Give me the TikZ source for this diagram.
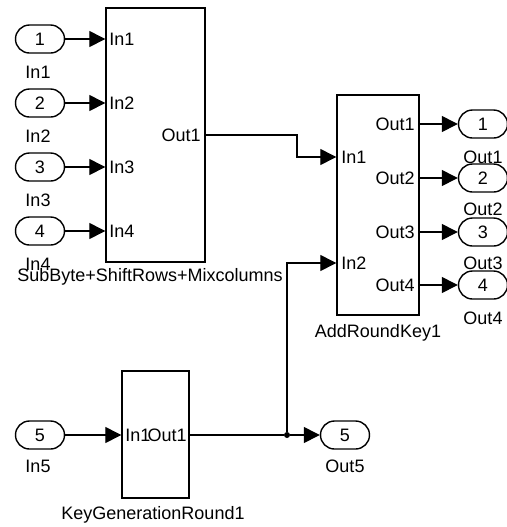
\documentclass[tikz,border=0pt]{standalone}
\usepackage{fontspec}
\setmainfont{Liberation Sans}
\usetikzlibrary{arrows.meta, shapes.misc}

\tikzset{
  blk/.style={draw, line width=0.7pt, inner sep=0pt},
  port/.style={draw, rounded rectangle, line width=0.7pt, minimum width=24.5pt, minimum height=14pt},
  lbl/.style={inner sep=0pt, font=\fontsize{9}{10}\selectfont},
  sig/.style={line width=0.7pt, -{Triangle[length=8pt, width=8pt]}},
  wire/.style={line width=0.7pt}
}

\begin{document}
\begin{tikzpicture}[x=0.5pt, y=-0.5pt]
  \useasboundingbox (0,0) rectangle (507,527);

  % SubByte+ShiftRows+Mixcolumns block
  \node[blk, minimum width=49.5pt, minimum height=127pt] (sbox) at (155.5,135) {};
  \node[lbl] (sbox-name) at (150,277) {SubByte+ShiftRows+Mixcolumns};
  \node[lbl, anchor=east] (sbox-out1) at (201,135) {Out1};

  % Inports 1..4
  \foreach \i/\yy in {1/39, 2/103, 3/167, 4/231} {
    \node[port, lbl] (in\i) at (40,\yy) {\i};
    \node[lbl] (inlbl\i) at (38,\yy+33) {In\i};
    \node[lbl, anchor=west] (sbox-in\i) at (109,\yy) {In\i};
    \draw[sig] (in\i.east) -- (sbox.west |- in\i);
  }

  % AddRoundKey block
  \node[blk, minimum width=41pt, minimum height=110pt] (ark) at (378,205) {};
  \node[lbl] (ark-name) at (378,333) {AddRoundKey1};
  \node[lbl, anchor=west] (ark-in1) at (341,157) {In1};
  \node[lbl, anchor=west] (ark-in2) at (341,263) {In2};

  % Outports 1..4
  \foreach \i/\yy/\ly in {1/124/157, 2/178/209, 3/232/263, 4/285/318} {
    \node[lbl, anchor=east] (ark-out\i) at (415,\yy) {Out\i};
    \node[port, lbl] (out\i) at (483,\yy) {\i};
    \node[lbl] (outlbl\i) at (483,\ly) {Out\i};
    \draw[sig] (ark.east |- ark-out\i) -- (out\i.west);
  }

  % sbox -> ark
  \coordinate (bend) at (297,135);
  \draw[sig] (sbox.east) -- (bend) |- (ark.west |- ark-in1);

  % Key generation
  \node[blk, minimum width=33.5pt, minimum height=63.5pt] (kgr) at (155.5,434.5) {};
  \node[lbl] (kgr-name) at (153,515) {KeyGenerationRound1};
  \node[lbl, anchor=west] (kgr-in1) at (125,435) {In1};
  \node[lbl, anchor=east] (kgr-out1) at (187,435) {Out1};

  \node[port, lbl] (in5) at (40,435) {5};
  \node[lbl] (inlbl5) at (38,466) {In5};
  \draw[sig] (in5.east) -- (kgr.west |- in5);

  \node[port, lbl] (out5) at (345,435) {5};
  \node[lbl] (outlbl5) at (345,466) {Out5};

  % branch point
  \node[circle, fill, inner sep=0pt, minimum size=3pt] (junc) at (287,435) {};
  \draw[wire] (kgr.east |- junc) -- (junc);
  \draw[sig] (junc) -- (out5.west);
  \draw[sig] (junc) |- (ark.west |- ark-in2);

\end{tikzpicture}
\end{document}
